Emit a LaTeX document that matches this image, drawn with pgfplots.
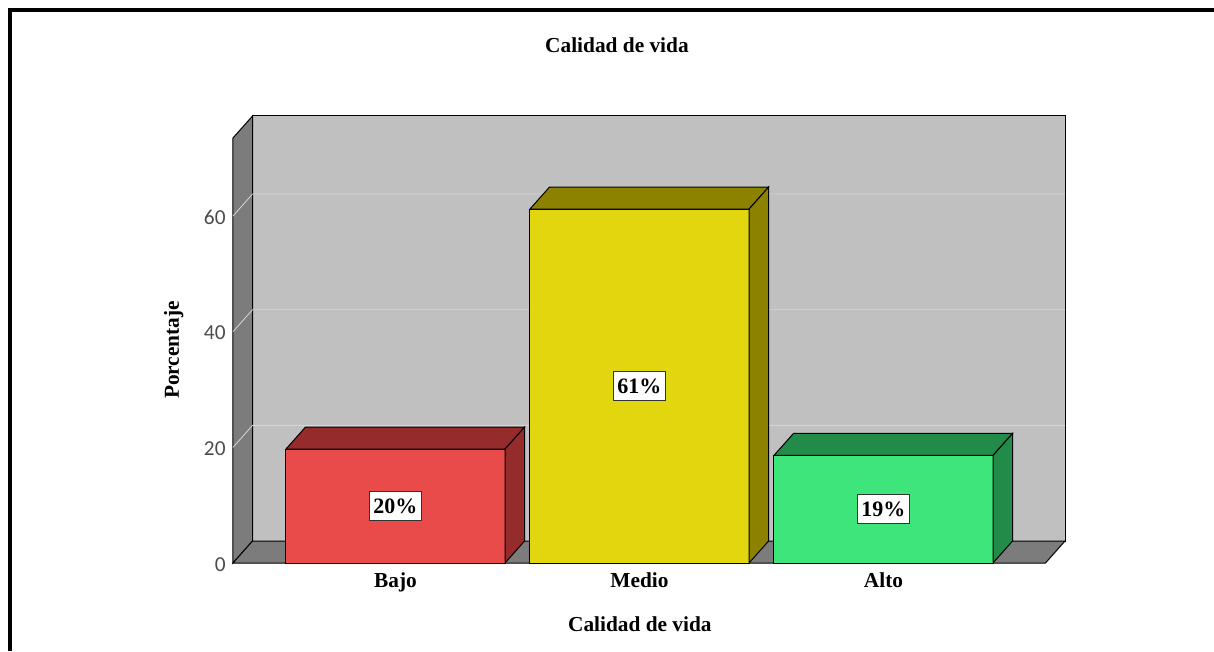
\documentclass[border=0pt]{standalone}
\usepackage{pgfplots}
\pgfplotsset{compat=1.18}
\usepackage{fontspec}
\setmainfont{Liberation Serif}
\newfontfamily\ticksans{Carlito}
\definecolor{wallback}{HTML}{C0C0C0}
\definecolor{wallside}{HTML}{7C7C7C}
\definecolor{gridc}{HTML}{D6D6D6}
\definecolor{redf}{HTML}{E94B4B}
\definecolor{redd}{HTML}{952B2B}
\definecolor{yelf}{HTML}{E2D60F}
\definecolor{yeld}{HTML}{8C8200}
\definecolor{grnf}{HTML}{3EE57B}
\definecolor{grnd}{HTML}{238B4A}
\begin{document}
\begin{tikzpicture}
\useasboundingbox (-174.75pt,-66pt) rectangle (735.75pt,422.25pt);
\draw[line width=3pt,black] (-167.25pt,-66pt) -- (-167.25pt,414.75pt) -- (735.75pt,414.75pt);
\begin{axis}[
  scale only axis,
  width=624pt, height=335.25pt,
  xmin=-0.666, xmax=2.744,
  ymin=0, ymax=77.3,
  clip=false,
  enlargelimits=false,
  axis line style={draw=none},
  tick style={draw=none},
  major tick length=0pt,
  xtick={0,1,2},
  xticklabels={Bajo,Medio,Alto},
  xticklabel style={font=\fontsize{16}{18}\selectfont\bfseries, yshift=-3.5pt},
  ytick={0,20,40,60},
  /pgf/number format/assume math mode=true,
  yticklabel style={font=\fontsize{16}{18}\selectfont\ticksans, text=black!70, xshift=-2pt, yshift=-1pt},
  title={Calidad de vida},
  title style={font=\fontsize{16}{18}\selectfont\bfseries, at={(0.4615,1)}, anchor=center, yshift=47pt},
  xlabel={Calidad de vida},
  xlabel style={font=\fontsize{16}{18}\selectfont\bfseries, at={(0.489,0)}, anchor=center, yshift=-45.75pt},
  ylabel={Porcentaje},
  ylabel style={font=\fontsize{16}{18}\selectfont\bfseries, at={(0,0.4765)}, anchor=center, yshift=44.5pt},
]
% walls and floor
\addplot[fill=wallback, draw=black, line width=0.75pt] coordinates {(-0.586,3.8) (2.744,3.8) (2.744,77.3) (-0.586,77.3)} -- cycle;
\addplot[fill=wallside, draw=black, line width=0.75pt] coordinates {(-0.666,0) (-0.586,3.8) (-0.586,77.3) (-0.666,73.5)} -- cycle;
\addplot[fill=wallside, draw=black, line width=0.75pt] coordinates {(-0.666,0) (2.664,0) (2.744,3.8) (-0.586,3.8)} -- cycle;
% grid lines
\addplot[gridc, line width=0.6pt] coordinates {(-0.666,20) (-0.586,23.8) (2.744,23.8)};
\addplot[gridc, line width=0.6pt] coordinates {(-0.666,40) (-0.586,43.8) (2.744,43.8)};
\addplot[gridc, line width=0.6pt] coordinates {(-0.666,60) (-0.586,63.8) (2.744,63.8)};
% Bajo
\addplot[ybar, bar width=0.898, fill=redf, draw=black, line width=0.75pt] coordinates {(0,19.7)};
\addplot[fill=redd, draw=black, line width=0.75pt] coordinates {(-0.449,19.7) (0.449,19.7) (0.529,23.5) (-0.369,23.5)} -- cycle;
\addplot[fill=redd, draw=black, line width=0.75pt] coordinates {(0.449,0) (0.529,3.8) (0.529,23.5) (0.449,19.7)} -- cycle;
% Medio
\addplot[ybar, bar width=0.898, fill=yelf, draw=black, line width=0.75pt] coordinates {(1,61.2)};
\addplot[fill=yeld, draw=black, line width=0.75pt] coordinates {(0.551,61.2) (1.449,61.2) (1.529,65.0) (0.631,65.0)} -- cycle;
\addplot[fill=yeld, draw=black, line width=0.75pt] coordinates {(1.449,0) (1.529,3.8) (1.529,65.0) (1.449,61.2)} -- cycle;
% Alto
\addplot[ybar, bar width=0.898, fill=grnf, draw=black, line width=0.75pt] coordinates {(2,18.6)};
\addplot[fill=grnd, draw=black, line width=0.75pt] coordinates {(1.551,18.6) (2.449,18.6) (2.529,22.4) (1.631,22.4)} -- cycle;
\addplot[fill=grnd, draw=black, line width=0.75pt] coordinates {(2.449,0) (2.529,3.8) (2.529,22.4) (2.449,18.6)} -- cycle;
% labels
\addplot[draw=none, nodes near coords, point meta=explicit symbolic,
  nodes near coords style={anchor=center, fill=white, draw=black!80, line width=0.6pt, inner sep=3pt, minimum height=22pt, font=\fontsize{16.5}{18}\selectfont\bfseries, text=black}]
  coordinates {(0,9.85)[20\%] (1,30.6)[61\%] (2,9.3)[19\%]};
\end{axis}
\end{tikzpicture}
\end{document}
